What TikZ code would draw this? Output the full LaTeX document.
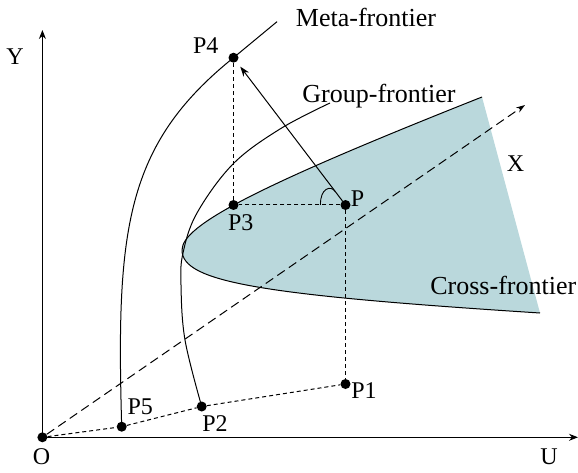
\documentclass[tikz,border=0pt]{standalone}
\usepackage{fontspec}
\setmainfont{Liberation Serif}
\usetikzlibrary{arrows.meta}
\definecolor{crossfill}{RGB}{186,216,220}
\begin{document}
\begin{tikzpicture}[x=1pt,y=-1pt,
  dot/.style={circle,fill=black,inner sep=0pt,minimum size=10pt},
  ptlabel/.style={anchor=base,inner sep=0pt,font=\fontsize{24}{26}\selectfont},
  frlabel/.style={anchor=base,inner sep=0pt,font=\fontsize{26}{28}\selectfont},
  frontier/.style={line width=1pt,line join=round},
  shortdash/.style={line width=1pt,dash pattern=on 4pt off 3pt},
  longdash/.style={line width=1pt,dash pattern=on 9pt off 5pt},
  axisline/.style={line width=1.1pt,-{Stealth[length=9pt,width=7pt]}},
  pointer/.style={line width=1pt,-{Stealth[length=10pt,width=7pt]}},
]
\useasboundingbox (0,0) rectangle (578,473);

% cross-frontier region
\coordinate (tip) at (182,250);
\coordinate (ur) at (482,97);
\coordinate (lr) at (540,313);
\fill[crossfill] (ur) .. controls (260,185) and (182,225) .. (tip) .. controls (182,282) and (260,295) .. (lr) -- cycle;
\draw[frontier] (ur) .. controls (260,185) and (182,225) .. (tip) .. controls (182,282) and (260,295) .. (lr);

% points
\node[dot] (O) at (42.4,437.3) {};
\node[dot] (P) at (345.5,205) {};
\node[dot] (P1) at (345.5,384) {};
\node[dot] (P2) at (201.7,406.5) {};
\node[dot] (P3) at (233.5,205) {};
\node[dot] (P4) at (233.5,57.7) {};
\node[dot] (P5) at (121.7,426.7) {};
\coordinate (Ytip) at (42.4,30);
\coordinate (Utip) at (578,437.3);
\coordinate (Xtip) at (525,105);
\coordinate (mfend) at (277,21.7);

% axes
\draw[axisline] (O.center) -- (Ytip);
\draw[axisline] (O.center) -- (Utip);

% X ray
\draw[longdash,-{Stealth[length=9pt,width=6pt]}] (O) -- (Xtip);

% dashed guides
\draw[shortdash] (O) -- (P5) -- (P2) -- (P1);
\draw[shortdash] (P) -- (P1);
\draw[shortdash] (P) -- (P3);
\draw[shortdash] (P3) -- (P4);

% arrow P -> P4
\draw[pointer,shorten >=6pt] (P) -- (P4);

% angle mark
\draw[line width=0.9pt] (320.5,205) .. controls (320,188) and (331,185) .. (335.2,191.5);

% frontiers
\draw[frontier] (P5.center) .. controls (116,230) and (125,145) .. (P4.center) -- (mfend);
\draw[frontier] plot[smooth,tension=0.6] coordinates {(P2.center) (185,340) (181,285) (183,253) (197,213) (233,164) (280,129) (330,103)};

% labels
\node[ptlabel] (Ylab) at (15,65) {Y};
\node[ptlabel] (Olab) at (41.5,464) {O};
\node[ptlabel] (Ulab) at (549,464) {U};
\node[ptlabel] (Xlab) at (515.5,171.7) {X};
\node[ptlabel] (P4lab) at (205.8,53.3) {P4};
\node[ptlabel] (P3lab) at (240.7,230) {P3};
\node[ptlabel] (Plab) at (357.5,206.7) {P};
\node[ptlabel] (P1lab) at (364,398) {P1};
\node[ptlabel] (P2lab) at (215,431.7) {P2};
\node[ptlabel] (P5lab) at (140.3,414) {P5};
\node[frlabel] (mflab) at (366,26.7) {Meta-frontier};
\node[frlabel] (gflab) at (379,103) {Group-frontier};
\node[frlabel] (cflab) at (503.3,294.3) {Cross-frontier};
\end{tikzpicture}
\end{document}
